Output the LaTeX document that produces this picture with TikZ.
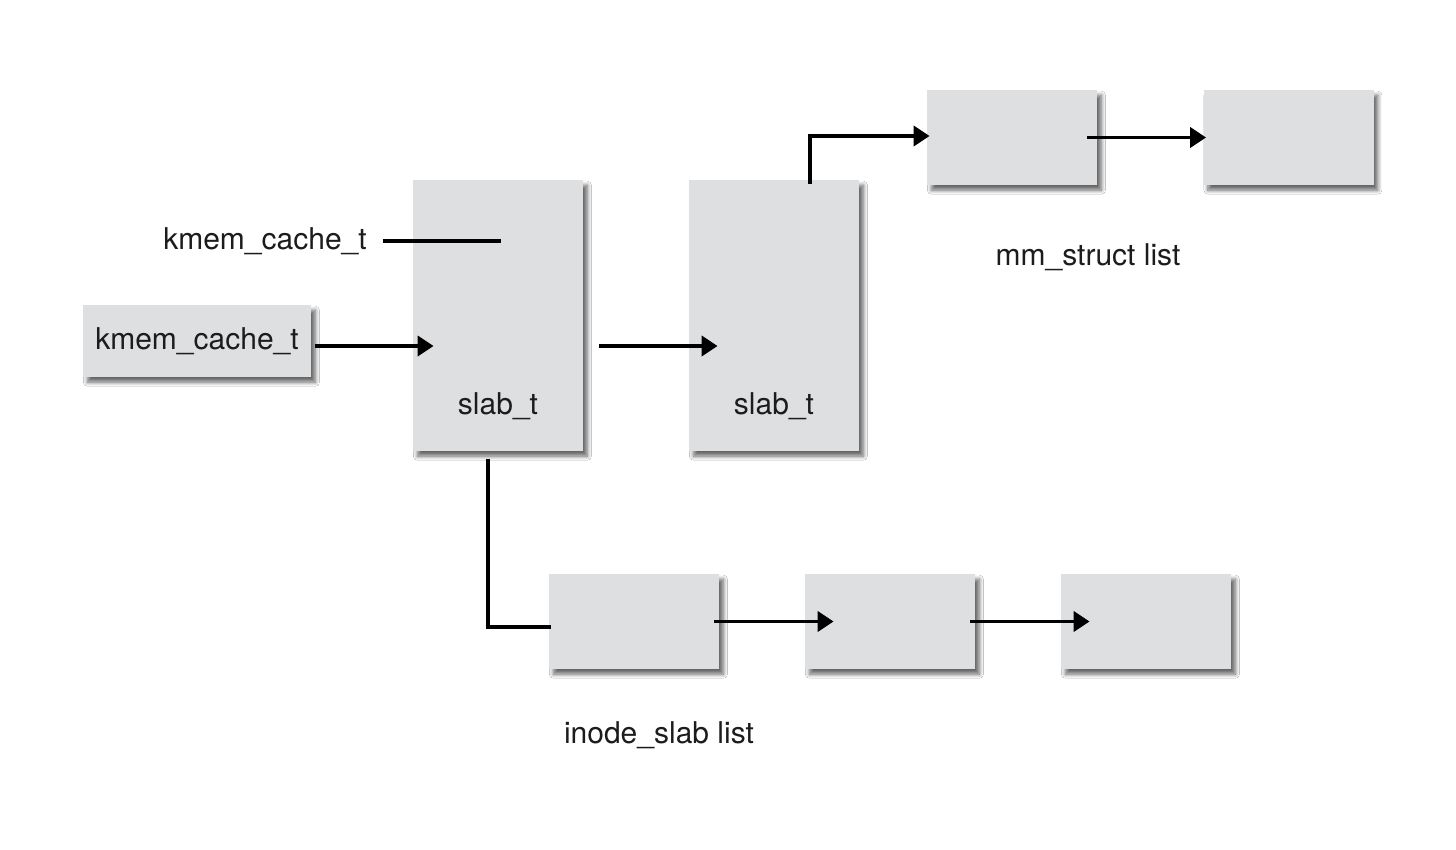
\documentclass[tikz,border=0pt]{standalone}
\usepackage{fontspec}
\setmainfont{TeX Gyre Heros}
\usetikzlibrary{arrows.meta,shadows.blur}

\definecolor{boxgray}{HTML}{DEDFE1}
\definecolor{textgray}{HTML}{1C1C1C}

\tikzset{
  cell/.style={fill=boxgray, inner sep=0pt,
    blur shadow={shadow xshift=2.2pt, shadow yshift=-2.6pt, shadow blur radius=2pt, shadow blur steps=8, shadow opacity=60}},
  link/.style={draw, line width=1.8pt, -{Triangle[length=8pt,width=10pt]}},
  bar/.style={draw, line width=1.8pt},
}

\begin{document}
\begin{tikzpicture}[x=0.5pt,y=-0.5pt, every node/.style={font=\fontsize{15}{18}\selectfont, text=textgray}]
\useasboundingbox[fill=white] (0,0) rectangle (1456,850);

        \begin{scope}[every node/.append style={cell}]
          \node[minimum width=114pt, minimum height=36pt] (kmem) at (197,341) {kmem\_cache\_t};
          \node[minimum width=85pt, minimum height=135.5pt] (slab1) at (498,315.5) {};
          \node[minimum width=85pt, minimum height=135.5pt] (slab2) at (774,315.5) {};
          \node[minimum width=85pt, minimum height=47.5pt] (mm1) at (1012,137.5) {};
          \node[minimum width=85pt, minimum height=47.5pt] (mm2) at (1288.5,137.5) {};
          \node[minimum width=85pt, minimum height=47.5pt] (inode1) at (634,621.5) {};
          \node[minimum width=85pt, minimum height=47.5pt] (inode2) at (890,621.5) {};
          \node[minimum width=85pt, minimum height=47.5pt] (inode3) at (1146,621.5) {};
        \end{scope}

        \node[inner sep=0pt] (cachelbl) at (265,241) {kmem\_cache\_t};
        \node (slab1lbl) at (498,406) {slab\_t};
        \node (slab2lbl) at (774,406) {slab\_t};
        \node (mmlbl) at (1088,257) {mm\_struct list};
        \node (inodelbl) at (659,735) {inode\_slab list};

        \path[bar] ([xshift=7.75pt]cachelbl.east) -- ([xshift=1.5pt]cachelbl.east -| slab1.center);
        \path[link] ([xshift=2pt,yshift=-2.5pt]kmem.east) -- ([xshift=10.5pt,yshift=-2.5pt]kmem.east -| slab1.west);
        \path[link] ([xshift=8pt,yshift=-15.25pt]slab1.east) -- ([xshift=14.5pt,yshift=-15.25pt]slab2.west);
        \path[link] ([xshift=18pt,yshift=-2pt]slab2.north) |- ([xshift=1.5pt,yshift=0.75pt]mm1.west);
        \path[link] ([xshift=-5pt]mm1.east) -- ([xshift=1.5pt]mm2.west);
        \path[bar] ([xshift=-5pt,yshift=-4pt]slab1.south) |- ([xshift=1pt,yshift=-2.75pt]inode1.west);
        \path[link] ([xshift=-2.5pt]inode1.east) -- ([xshift=14.5pt]inode2.west);
        \path[link] ([xshift=-2.5pt]inode2.east) -- ([xshift=14.5pt]inode3.west);

      \end{tikzpicture}
\end{document}
